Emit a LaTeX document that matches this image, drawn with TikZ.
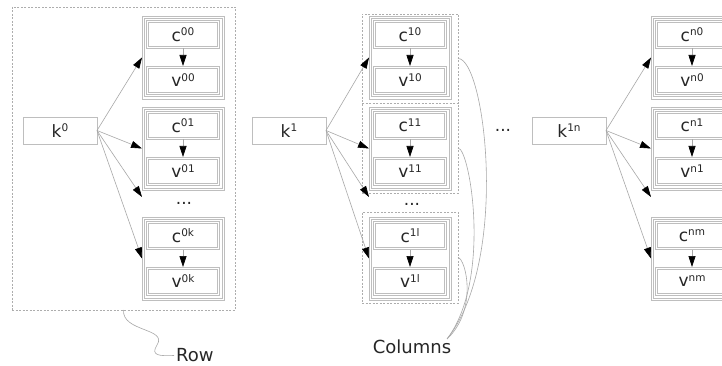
\documentclass[tikz,border=0pt]{standalone}
\usepackage{fontspec}
\setmainfont{DejaVu Sans}
\usetikzlibrary{arrows.meta,calc}
\definecolor{boxgray}{HTML}{BEBEBE}
\definecolor{linegray}{HTML}{A8A8A8}
\definecolor{dashgray}{HTML}{ADADAD}
\definecolor{txt}{HTML}{262626}
\newcommand\sups[1]{\raisebox{5.5pt}{\fontsize{10.5}{10.5}\selectfont #1}}
\newcommand\innerline[2]{%
  \draw[boxgray, line width=0.6pt] ($(#1.north west)+(#2,#2)$) rectangle ($(#1.south east)+(-#2,-#2)$);}
\newcommand\cvgroup[4]{%
  \node[grpbox] (g#1) at (#2,#3) {};
  \innerline{g#1}{2.2}
  \node[cvbox] (c#1) at (#2+4.5,#3+4.5) {c\sups{#4}};
  \innerline{c#1}{2}
  \node[cvbox] (v#1) at (#2+4.5,#3+50) {v\sups{#4}};
  \innerline{v#1}{2}
  \draw[cvarrow] (c#1) -- (v#1);
}
\begin{document}
\begin{tikzpicture}[x=1pt,y=-1pt,
  grpbox/.style={draw=boxgray, line width=0.6pt,
    minimum width=82pt, minimum height=83pt, inner sep=0pt, outer sep=0pt, anchor=north west},
  cvbox/.style={draw=boxgray, line width=0.6pt,
    minimum width=73pt, minimum height=28pt, inner sep=0pt, outer sep=0pt, anchor=north west,
    text=txt, font=\fontsize{17}{17}\selectfont},
  kbox/.style={draw=boxgray, line width=0.9pt, minimum width=74pt, minimum height=27pt,
    inner sep=0pt, outer sep=0pt, anchor=north west, text=txt, font=\fontsize{17}{17}\selectfont},
  dbox/.style={draw=dashgray, dash pattern=on 2pt off 1.5pt, line width=0.6pt,
    minimum width=96pt, inner sep=0pt, outer sep=0pt, anchor=north west},
  dotsty/.style={text=txt, inner sep=0pt, font=\fontsize{17}{17}\selectfont},
  lbl/.style={text=txt, inner sep=2pt, font=\fontsize{18}{18}\selectfont},
  karrow/.style={draw=linegray, line width=0.6pt, -{Triangle[length=11pt,width=7pt,color=black]}},
  cvarrow/.style={draw=linegray, line width=0.6pt, -{Triangle[length=11pt,width=7pt,color=black]}},
  curve/.style={draw=linegray, line width=0.6pt}
]
\clip (0,0) rectangle (722,366);
\fill[white] (0,0) rectangle (722,366);

% ---------- row (column 0) ----------
\node[dbox, minimum width=223pt, minimum height=303pt] (row) at (12,7) {};
\node[kbox] (k0) at (23,117) {k\sups{0}};
\cvgroup{00}{142}{16}{00}
\cvgroup{01}{142}{107}{01}
\cvgroup{0k}{142}{217}{0k}
\node[dotsty] (dots0) at (184,203) {...};
\coordinate (e0) at (142,197);
\draw[karrow] (k0.east) -- (g00.west);
\draw[karrow] (k0.east) -- (g01.west);
\draw[karrow] (k0.east) -- (e0);
\draw[karrow] (k0.east) -- (g0k.west);

% ---------- column 1 ----------
\node[dbox, minimum height=89pt] (d10) at (362,14) {};
\node[dbox, minimum height=90pt] (d11) at (362,103) {};
\node[dbox, minimum height=91pt] (d1l) at (362,212) {};
\node[kbox] (k1) at (252,117) {k\sups{1}};
\cvgroup{10}{369}{16}{10}
\cvgroup{11}{369}{107}{11}
\cvgroup{1l}{369}{217}{1l}
\node[dotsty] (dots1) at (412,204) {...};
\coordinate (e1) at (369,197);
\draw[karrow] (k1.east) -- (g10.west);
\draw[karrow] (k1.east) -- (g11.west);
\draw[karrow] (k1.east) -- (e1);
\draw[karrow] (k1.east) -- (g1l.west);

% ---------- middle dots ----------
\node[dotsty] (dotsm) at (503,130) {...};

% ---------- column n ----------
\node[kbox] (kn) at (532,117) {k\sups{1n}};
\cvgroup{n0}{651}{16}{n0}
\cvgroup{n1}{651}{107}{n1}
\cvgroup{nm}{651}{217}{nm}
\coordinate (en) at (651,197);
\draw[karrow] (kn.east) -- (gn0.west);
\draw[karrow] (kn.east) -- (gn1.west);
\draw[karrow] (kn.east) -- (en);
\draw[karrow] (kn.east) -- (gnm.west);

% ---------- labels ----------
\node[lbl, anchor=west] (rowlbl) at (174,355.5) {Row};
\node[lbl] (collbl) at (412,347) {Columns};
\coordinate (cend) at (447,339);

\draw[curve] (row.south) .. controls (122,332) and (168,328) .. (157,345)
  .. controls (150,356) and (160,356) .. (rowlbl.west);
\draw[curve] (d10.east) .. controls (485,58) and (510,260) .. (cend);
\draw[curve] (d11.east) .. controls (470,148) and (492,280) .. (cend);
\draw[curve] (d1l.east) .. controls (466,259) and (478,310) .. (cend);
\end{tikzpicture}
\end{document}
